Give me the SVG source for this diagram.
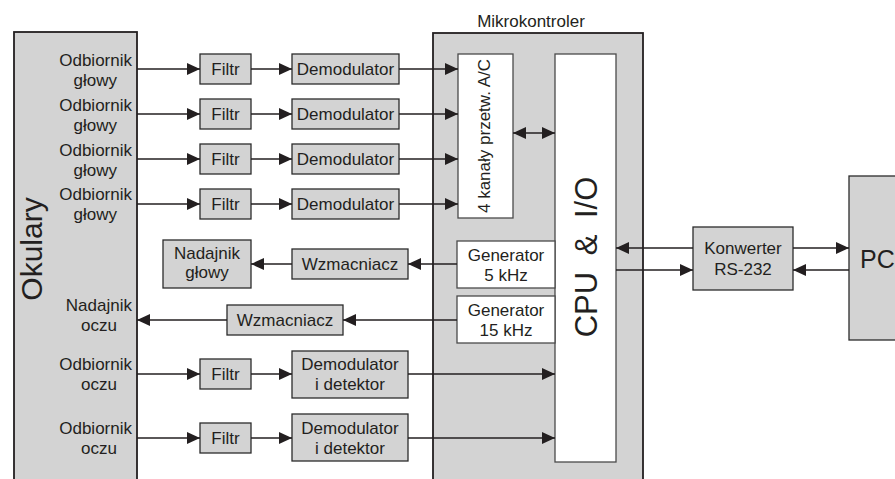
<svg xmlns="http://www.w3.org/2000/svg" width="895" height="479" viewBox="0 0 895 479">
<style>
.box{fill:#d3d3d3;stroke:#2b2b2b;stroke-width:1.3}
.big{fill:#d3d3d3;stroke:#231f20;stroke-width:1.8}
.wbox{fill:#ffffff;stroke:#4a4a4a;stroke-width:1.3}
.t{font-family:"Liberation Sans",Arial,sans-serif;font-size:17px;fill:#231f20}
.m{text-anchor:middle}
.e{text-anchor:end}
.ln{stroke:#231f20;stroke-width:1.3;fill:none;marker-end:url(#ah)}
.dbl{marker-start:url(#ah)}
</style>
<defs>
<marker id="ah" markerUnits="userSpaceOnUse" markerWidth="13" markerHeight="12" refX="13" refY="6" orient="auto-start-reverse">
<path d="M0,0 L13,6 L0,12 z" fill="#231f20"/>
</marker>
</defs>
<rect width="895" height="479" fill="#ffffff"/>

<g id="okulary">
<rect class="big" x="14" y="32" width="123" height="460"/>
<text class="t m" transform="translate(42,249) rotate(-90)" style="font-size:30px">Okulary</text>
<text class="t e" x="132" y="66">Odbiornik</text><text class="t e" x="117" y="86">głowy</text>
<text class="t e" x="132" y="111">Odbiornik</text><text class="t e" x="117" y="131">głowy</text>
<text class="t e" x="132" y="156">Odbiornik</text><text class="t e" x="117" y="176">głowy</text>
<text class="t e" x="132" y="200">Odbiornik</text><text class="t e" x="117" y="220">głowy</text>
<text class="t e" x="132" y="311">Nadajnik</text><text class="t e" x="117" y="331">oczu</text>
<text class="t e" x="132" y="370">Odbiornik</text><text class="t e" x="117" y="390">oczu</text>
<text class="t e" x="132" y="434">Odbiornik</text><text class="t e" x="117" y="454">oczu</text>
</g>

<g id="mikrokontroler">
<text class="t m" x="531" y="27">Mikrokontroler</text>
<rect class="big" x="433" y="33" width="210" height="460"/>
</g>

<g id="adc">
<rect class="wbox" x="458" y="54" width="55" height="164"/>
<text class="t m" transform="translate(490,136) rotate(-90)">4 kanały przetw.  A/C</text>
</g>

<g id="cpu">
<rect class="wbox" x="555" y="54" width="61" height="408"/>
<text class="t m" transform="translate(597,257) rotate(-90)" style="font-size:31px;word-spacing:8px">CPU &amp; I/O</text>
</g>

<g id="gen5">
<rect class="wbox" x="457" y="241" width="98" height="47"/>
<text class="t m" x="506" y="261">Generator</text><text class="t m" x="506" y="281">5 kHz</text>
</g>
<g id="gen15">
<rect class="wbox" x="457" y="296" width="98" height="47"/>
<text class="t m" x="506" y="316">Generator</text><text class="t m" x="506" y="336">15 kHz</text>
</g>

<g id="filtr1"><rect class="box" x="200" y="54" width="51" height="30"/><text class="t m" x="225.5" y="75">Filtr</text></g>
<g id="filtr2"><rect class="box" x="200" y="99" width="51" height="30"/><text class="t m" x="225.5" y="120">Filtr</text></g>
<g id="filtr3"><rect class="box" x="200" y="144" width="51" height="30"/><text class="t m" x="225.5" y="165">Filtr</text></g>
<g id="filtr4"><rect class="box" x="200" y="189" width="51" height="30"/><text class="t m" x="225.5" y="210">Filtr</text></g>
<g id="filtr5"><rect class="box" x="200" y="359" width="51" height="30"/><text class="t m" x="225.5" y="380">Filtr</text></g>
<g id="filtr6"><rect class="box" x="200" y="423" width="51" height="30"/><text class="t m" x="225.5" y="444">Filtr</text></g>

<g id="demod1"><rect class="box" x="292" y="54" width="107" height="30"/><text class="t m" x="345.5" y="75">Demodulator</text></g>
<g id="demod2"><rect class="box" x="292" y="99" width="107" height="30"/><text class="t m" x="345.5" y="120">Demodulator</text></g>
<g id="demod3"><rect class="box" x="292" y="144" width="107" height="30"/><text class="t m" x="345.5" y="165">Demodulator</text></g>
<g id="demod4"><rect class="box" x="292" y="189" width="107" height="30"/><text class="t m" x="345.5" y="210">Demodulator</text></g>

<g id="demoddet1"><rect class="box" x="292" y="351" width="116" height="47"/><text class="t m" x="350" y="370">Demodulator</text><text class="t m" x="350" y="390">i detektor</text></g>
<g id="demoddet2"><rect class="box" x="292" y="414" width="116" height="47"/><text class="t m" x="350" y="434">Demodulator</text><text class="t m" x="350" y="454">i detektor</text></g>

<g id="nadajnik"><rect class="box" x="163" y="240" width="88" height="48"/><text class="t m" x="207" y="259">Nadajnik</text><text class="t m" x="207" y="278">głowy</text></g>
<g id="wzm1"><rect class="box" x="292" y="249" width="116" height="30"/><text class="t m" x="350" y="270">Wzmacniacz</text></g>
<g id="wzm2"><rect class="box" x="227" y="305" width="116" height="30"/><text class="t m" x="285" y="326">Wzmacniacz</text></g>

<g id="konwerter"><rect class="box" x="693" y="227" width="100" height="63"/><text class="t m" x="743" y="254">Konwerter</text><text class="t m" x="743" y="275">RS-232</text></g>
<g id="pc"><rect class="box" x="849" y="176" width="60" height="164"/><text class="t" x="860" y="268" style="font-size:25px">PC</text></g>

<g id="connectors">
<line class="ln" x1="137" y1="69" x2="200" y2="69"/>
<line class="ln" x1="137" y1="114" x2="200" y2="114"/>
<line class="ln" x1="137" y1="159" x2="200" y2="159"/>
<line class="ln" x1="137" y1="204" x2="200" y2="204"/>
<line class="ln" x1="251" y1="69" x2="292" y2="69"/>
<line class="ln" x1="251" y1="114" x2="292" y2="114"/>
<line class="ln" x1="251" y1="159" x2="292" y2="159"/>
<line class="ln" x1="251" y1="204" x2="292" y2="204"/>
<line class="ln" x1="399" y1="69" x2="458" y2="69"/>
<line class="ln" x1="399" y1="114" x2="458" y2="114"/>
<line class="ln" x1="399" y1="159" x2="458" y2="159"/>
<line class="ln" x1="399" y1="204" x2="458" y2="204"/>
<line class="ln dbl" x1="513" y1="133" x2="555" y2="133"/>
<line class="ln" x1="457" y1="264" x2="408" y2="264"/>
<line class="ln" x1="292" y1="264" x2="251" y2="264"/>
<line class="ln" x1="457" y1="320" x2="343" y2="320"/>
<line class="ln" x1="227" y1="320" x2="137" y2="320"/>
<line class="ln" x1="137" y1="374" x2="200" y2="374"/>
<line class="ln" x1="137" y1="438" x2="200" y2="438"/>
<line class="ln" x1="251" y1="374" x2="292" y2="374"/>
<line class="ln" x1="251" y1="438" x2="292" y2="438"/>
<line class="ln" x1="408" y1="374" x2="555" y2="374"/>
<line class="ln" x1="408" y1="438" x2="555" y2="438"/>
<line class="ln" x1="693" y1="248" x2="616" y2="248"/>
<line class="ln" x1="616" y1="270" x2="693" y2="270"/>
<line class="ln" x1="793" y1="248" x2="849" y2="248"/>
<line class="ln" x1="849" y1="270" x2="793" y2="270"/>
</g>
</svg>
